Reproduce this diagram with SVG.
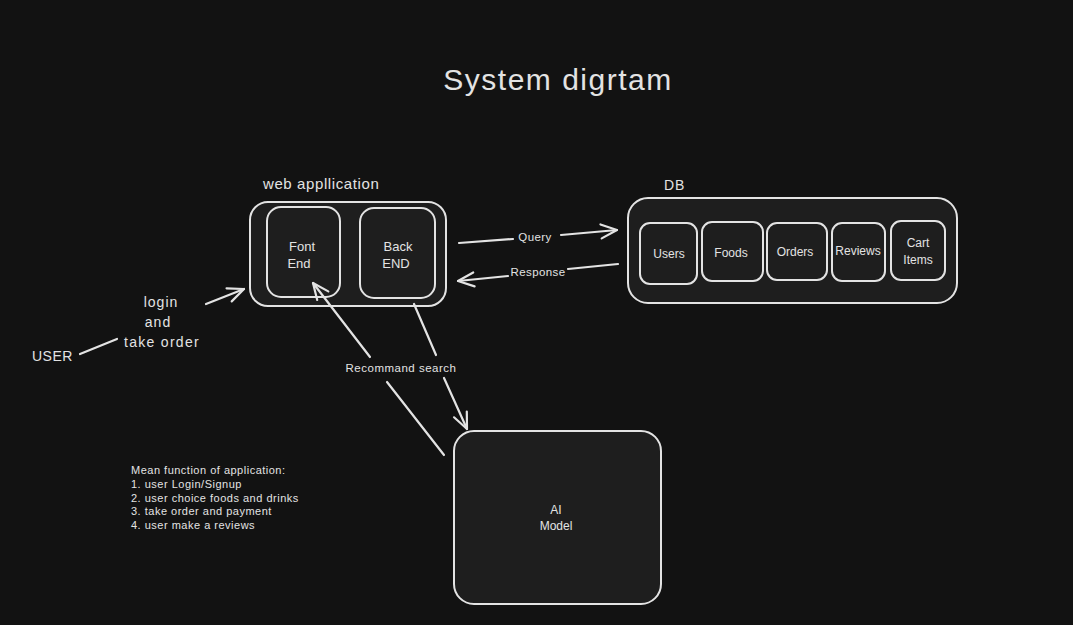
<svg xmlns="http://www.w3.org/2000/svg" width="1073" height="625" viewBox="0 0 1073 625">
<defs>
<style>
.bg{fill:#121212}
.box{fill:#1e1e1e;stroke:#e3e3e3;stroke-width:2}
.t{font-family:"Liberation Sans",Arial,sans-serif;fill:#e3e3e3}
.c{stroke:#e3e3e3;stroke-width:2.2;fill:none;stroke-linecap:round;stroke-linejoin:round}
</style>
<marker id="ah" viewBox="0 0 20 20" refX="18" refY="10" markerWidth="20" markerHeight="20" markerUnits="userSpaceOnUse" orient="auto">
<path d="M2,3 L18,10 L2,17" fill="none" stroke="#e3e3e3" stroke-width="2.2" stroke-linecap="round" stroke-linejoin="round"/>
</marker>
</defs>
<rect class="bg" x="0" y="0" width="1073" height="625"/>
<text class="t" x="558" y="90" font-size="30" letter-spacing="1.5" text-anchor="middle">System digrtam</text>

<g id="webapp">
<text class="t" x="263" y="189" font-size="15" letter-spacing="0.6">web appllication</text>
<rect class="box" x="250" y="202" width="196" height="104" rx="18"/>
</g>
<g id="frontend">
<rect class="box" x="267" y="207" width="73" height="90" rx="14"/>
<text class="t" x="302" y="251" font-size="13" text-anchor="middle">Font</text>
<text class="t" x="299" y="268" font-size="13" text-anchor="middle">End</text>
</g>
<g id="backend">
<rect class="box" x="360" y="208" width="75" height="90" rx="14"/>
<text class="t" x="398" y="251" font-size="13" text-anchor="middle">Back</text>
<text class="t" x="396" y="268" font-size="13" text-anchor="middle">END</text>
</g>

<g id="db">
<text class="t" x="664" y="190" font-size="14" letter-spacing="1">DB</text>
<rect class="box" x="628" y="198" width="329" height="105" rx="20"/>
</g>
<g id="users"><rect class="box" x="640" y="223" width="57" height="61" rx="10"/><text class="t" x="669" y="258" font-size="12" text-anchor="middle">Users</text></g>
<g id="foods"><rect class="box" x="702" y="222" width="61" height="59" rx="10"/><text class="t" x="731" y="257" font-size="12" text-anchor="middle">Foods</text></g>
<g id="orders"><rect class="box" x="767" y="223" width="60" height="57" rx="10"/><text class="t" x="795" y="256" font-size="12" text-anchor="middle">Orders</text></g>
<g id="reviews"><rect class="box" x="832" y="223" width="53" height="58" rx="10"/><text class="t" x="858" y="255" font-size="12" text-anchor="middle">Reviews</text></g>
<g id="cartitems"><rect class="box" x="891" y="221" width="54" height="59" rx="10"/><text class="t" x="918" y="247" font-size="12" text-anchor="middle">Cart</text><text class="t" x="918" y="264" font-size="12" text-anchor="middle">Items</text></g>

<g id="aimodel">
<rect class="box" x="454" y="431" width="207" height="173" rx="20"/>
<text class="t" x="556" y="514" font-size="12" text-anchor="middle">AI</text>
<text class="t" x="556" y="530" font-size="12" text-anchor="middle">Model</text>
</g>

<g id="user">
<text class="t" x="32" y="361" font-size="14" letter-spacing="0.5">USER</text>
</g>

<g id="notes">
<text class="t" x="131" y="474" font-size="11" letter-spacing="0.5">Mean function of application:</text>
<text class="t" x="131" y="488" font-size="11" letter-spacing="0.5">1. user Login/Signup</text>
<text class="t" x="131" y="502" font-size="11" letter-spacing="0.5">2. user choice foods and drinks</text>
<text class="t" x="131" y="515" font-size="11" letter-spacing="0.5">3. take order and payment</text>
<text class="t" x="131" y="529" font-size="11" letter-spacing="0.5">4. user make a reviews</text>
</g>

<g id="connectors">
<path class="c" d="M80,354 L117,339"/>
<path class="c" d="M206,304 L244,289" marker-end="url(#ah)"/>
<text class="t" x="161" y="307" font-size="14" letter-spacing="1" text-anchor="middle">login</text>
<text class="t" x="158" y="327" font-size="14" letter-spacing="1" text-anchor="middle">and</text>
<text class="t" x="162" y="347" font-size="14" letter-spacing="1.3" text-anchor="middle">take order</text>

<path class="c" d="M459,243 L513,239"/>
<path class="c" d="M561,235 L617,230" marker-end="url(#ah)"/>
<text class="t" x="535" y="241" font-size="11.5" letter-spacing="0.4" text-anchor="middle">Query</text>

<path class="c" d="M618,264 L568,269"/>
<path class="c" d="M508,276 L458,281" marker-end="url(#ah)"/>
<text class="t" x="538" y="276" font-size="11.5" letter-spacing="0.4" text-anchor="middle">Response</text>

<path class="c" d="M414,304 L436,355"/>
<path class="c" d="M444,378 L467,429" marker-end="url(#ah)"/>
<path class="c" d="M444,455 L387,382"/>
<path class="c" d="M370,357 L313,283" marker-end="url(#ah)"/>
<text class="t" x="401" y="372" font-size="11.5" letter-spacing="0.5" text-anchor="middle">Recommand search</text>
</g>
</svg>
